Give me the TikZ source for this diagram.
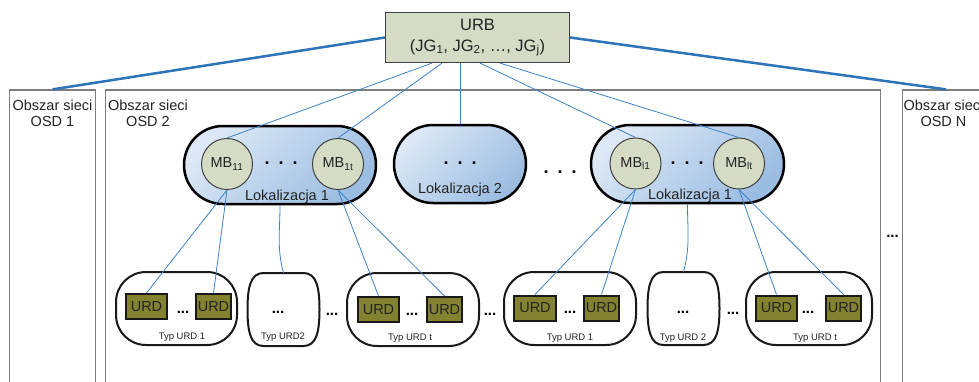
\documentclass[tikz,border=0pt]{standalone}
\usepackage{fontspec}
\setmainfont{Liberation Sans}
\usetikzlibrary{shapes.misc,positioning}

\definecolor{sage}{RGB}{212,220,197}
\definecolor{linkblue}{RGB}{60,130,200}
\definecolor{trunkblue}{RGB}{45,115,185}
\definecolor{pilllight}{RGB}{220,232,245}
\definecolor{pilldark}{RGB}{155,189,226}
\definecolor{olive}{RGB}{130,130,48}
\definecolor{osdgray}{RGB}{125,125,125}
\definecolor{txt}{RGB}{35,35,35}

\begin{document}
\begin{tikzpicture}[x=1pt, y=-1pt,
  urb/.style={shape=rectangle, fill=sage, draw=black!75, line width=1.2pt, minimum width=184, minimum height=50, inner sep=0pt, align=center, text=txt, font=\fontsize{16.5}{21}\selectfont},
  osd/.style={shape=rectangle, draw=osdgray, line width=1.2pt, minimum height=300, inner sep=0pt},
  osdtext/.style={inner sep=0pt, align=center, text=txt, font=\fontsize{14.5}{16}\selectfont},
  loc/.style={shape=rounded rectangle, draw=black, line width=2.5pt, top color=pilllight, bottom color=pilldark, shading angle=45, minimum height=78, inner sep=0pt},
  mb/.style={shape=circle, fill=sage, draw=black!75, line width=1pt, minimum size=51, inner sep=0pt, text=txt, font=\fontsize{14.5}{16}\selectfont},
  grp/.style={shape=rectangle, rounded corners=30pt, draw=black!90, line width=2pt, fill=white, minimum height=73, inner sep=0pt},
  slot/.style={shape=rectangle, minimum width=72, minimum height=73, inner sep=0pt},
  urd/.style={shape=rectangle, fill=olive, draw=black!90, line width=2pt, minimum width=41, minimum height=25, inner sep=0pt, text=txt, font=\fontsize{14.5}{16}\selectfont},
  typ/.style={inner sep=0pt, text=txt, font=\fontsize{9.5}{11}\selectfont},
  ellip/.style={anchor=base, inner sep=0pt, font=\bfseries\fontsize{15}{16}\selectfont},
  bigellip/.style={anchor=base, inner sep=0pt, font=\bfseries\fontsize{18}{20}\selectfont},
  loctext/.style={anchor=base, inner sep=0pt, text=txt, font=\fontsize{14.5}{16}\selectfont},
  link/.style={draw=linkblue, line width=0.8pt},
  trunk/.style={draw=trunkblue, line width=2.5pt}]

\useasboundingbox (0,0) rectangle (979,381);
\clip (0,0) rectangle (979,381);

% obszary OSD
\node (osd1) at (52.5,240) [osd, minimum width=86] {};
\node (osd2) at (493,240) [osd, minimum width=775] {};
\node (osdN) at (946,240) [osd, minimum width=87] {};
\node (osd1txt) [osdtext, below=10pt of osd1.north] {Obszar sieci\\OSD 1};
\node (osd2txt) [osdtext, below right=10pt and 3pt of osd2.north west] {Obszar sieci\\OSD 2};
\node (osdNtxt) [osdtext, below right=10pt and 1.5pt of osdN.north west] {Obszar sieci\\OSD N};
\node (osddots) at (892.5,237) [ellip] {...};

\node (urb) at (477.5,37.5) [urb] {URB\\(JG\textsubscript{1}, JG\textsubscript{2}, …, JG\textsubscript{j})};
\draw[trunk] (urb.west) -- (osd1.north);
\draw[trunk] (urb.east) -- (osdN.north);

% lokalizacje
\node (loc1) at (280,165) [loc, minimum width=192] {};
\node (loc2) at (460,164) [loc, minimum width=132] {};
\node (loc3) at (687.5,164) [loc, minimum width=193] {};

\node (mb11) at (227,164) [mb] {MB\textsubscript{11}};
\node (mb1t) at (338,164) [mb] {MB\textsubscript{1t}};
\node (mbl1) at (635.5,163.5) [mb] {MB\textsubscript{l1}};
\node (mblt) at (739,163.5) [mb] {MB\textsubscript{lt}};

\node (ld1) at (281,164) [bigellip] {.\enspace.\enspace.};
\node (ld2) at (460,164) [bigellip] {.\enspace.\enspace.};
\node (ld3) at (687,164) [bigellip] {.\enspace.\enspace.};
\node (ld4) at (560,173) [bigellip] {.\enspace.\enspace.};
\node (l1txt) at (287,200) [loctext] {Lokalizacja 1};
\node (l2txt) at (460,193) [loctext] {Lokalizacja 2};
\node (l3txt) at (690,199) [loctext] {Lokalizacja 1};

% grupy URD
\node (g1) at (176.5,308.5) [grp, minimum width=121] {};
\node (g2) at (283.5,309.5) [slot] {};
\node (g3) at (413,309.5) [grp, minimum width=132] {};
\node (g4) at (570,308.5) [grp, minimum width=132] {};
\node (g5) at (683.5,308.5) [slot] {};
\node (g6) at (809,308.5) [grp, minimum width=126] {};
\foreach \g in {g2,g5}
  \draw[black!90, line width=2pt, fill=white, shift={(\g.center)}]
    (-20,-36.5) -- (20,-36.5) .. controls (33,-36.5) and (36,-22) .. (36,0)
    .. controls (36,22) and (33,36.5) .. (20,36.5) -- (-20,36.5)
    .. controls (-33,36.5) and (-36,22) .. (-36,0)
    .. controls (-36,-22) and (-33,-36.5) .. (-20,-36.5) -- cycle;

\node (u11) at (146.5,306.5) [urd] {URD};
\node (u12) at (213.5,306.5) [urd, minimum width=35] {URD};
\node (u31) at (378.5,309.5) [urd] {URD};
\node (u32) at (444.5,309.5) [urd, minimum width=35] {URD};
\node (u41) at (535,308) [urd, minimum width=42] {URD};
\node (u42) at (601.5,308) [urd, minimum width=35] {URD};
\node (u61) at (776.5,308) [urd] {URD};
\node (u62) at (843.5,308) [urd, minimum width=35] {URD};

\node (e1) at (183,313) [ellip] {...};
\node (e2) at (278,313) [ellip] {...};
\node (e3) at (332,315) [ellip] {...};
\node (e4) at (412,315) [ellip] {...};
\node (e5) at (490,315) [ellip] {...};
\node (e6) at (570,313) [ellip] {...};
\node (e7) at (683,313) [ellip] {...};
\node (e8) at (733,314) [ellip] {...};
\node (e9) at (808,313) [ellip] {...};

\node (t1) at (182,337) [typ] {Typ URD 1};
\node (t2) at (283,337) [typ] {Typ URD2};
\node (t3) at (410,338) [typ] {Typ URD t};
\node (t4) at (570,338) [typ] {Typ URD 1};
\node (t5) at (683,338) [typ] {Typ URD 2};
\node (t6) at (815,338) [typ] {Typ URD t};

% polaczenia
\draw[link] ([xshift=-45.5pt]urb.south) -- (mb11.north);
\draw[link] ([xshift=-35.5pt]urb.south) -- (mb1t.north);
\draw[link] ([xshift=-17.5pt]urb.south) -- (loc2.north);
\draw[link] ([xshift=2.5pt]urb.south) -- (mbl1.north);
\draw[link] ([xshift=22.5pt]urb.south) -- (mblt.north);

\draw[link] (mb11.south) -- (u11.north);
\draw[link] (mb11.south) -- (u12.north);
\draw[link] (loc1.south) to[out=-90, in=105] (g2.north);
\draw[link] (mb1t.south) -- (u31.north);
\draw[link] (mb1t.south) -- (u32.north);
\draw[link] (mbl1.south) -- (u41.north);
\draw[link] (mbl1.south) -- (u42.north);
\draw[link] (loc3.south) to[out=-90, in=75] (g5.north);
\draw[link] (mblt.south) -- (u61.north);
\draw[link] (mblt.south) -- (u62.north);
\end{tikzpicture}
\end{document}
